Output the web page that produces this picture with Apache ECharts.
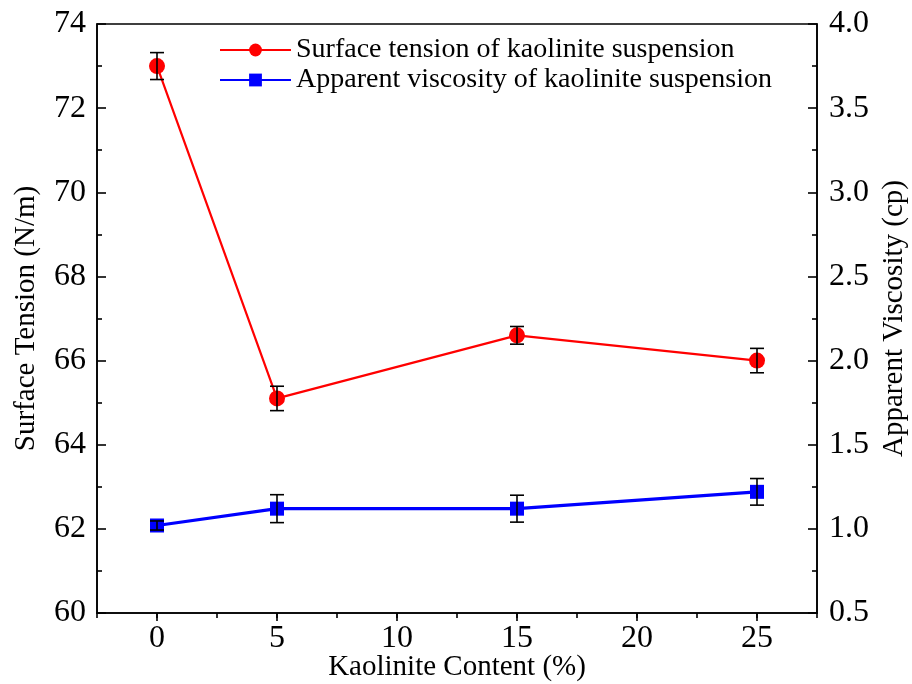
<!DOCTYPE html>
<html>
<head>
<meta charset="utf-8">
<script src="https://cdn.jsdelivr.net/npm/echarts@6/dist/echarts.min.js"></script>
<style>html,body{margin:0;padding:0;background:#fff;}#c{width:912px;height:684px;}</style>
</head>
<body>
<div id="c"></div>
<script>
var kaolinite = [0, 5, 15, 25];
var surfaceTension = [73.0, 65.1, 66.6, 66.0];
var surfaceTensionErr = [0.32, 0.29, 0.21, 0.29];
var viscosity = [1.02, 1.12, 1.12, 1.22];
var viscosityErr = [0.027, 0.083, 0.08, 0.079];
var xTicks = [0, 5, 10, 15, 20, 25];
var nameST = 'Surface tension of kaolinite suspension';
var nameAV = 'Apparent viscosity of kaolinite suspension';

var font = 'Liberation Serif, Times New Roman, serif';
var stData = kaolinite.map(function (x, i) { return [x, surfaceTension[i]]; });
var avData = kaolinite.map(function (x, i) { return [x, viscosity[i]]; });
var stErr = kaolinite.map(function (x, i) { return [x, surfaceTension[i] - surfaceTensionErr[i], surfaceTension[i] + surfaceTensionErr[i]]; });
var avErr = kaolinite.map(function (x, i) { return [x, viscosity[i] - viscosityErr[i], viscosity[i] + viscosityErr[i]]; });

function errRender(params, api) {
  var x = api.value(0);
  var lo = api.coord([x, api.value(1)]);
  var hi = api.coord([x, api.value(2)]);
  var hw = 7;
  var st = { stroke: '#000', lineWidth: 1.6 };
  return {
    type: 'group',
    children: [
      { type: 'line', shape: { x1: lo[0], y1: lo[1], x2: hi[0], y2: hi[1] }, style: st },
      { type: 'line', shape: { x1: lo[0] - hw, y1: lo[1], x2: lo[0] + hw, y2: lo[1] }, style: st },
      { type: 'line', shape: { x1: hi[0] - hw, y1: hi[1], x2: hi[0] + hw, y2: hi[1] }, style: st }
    ]
  };
}

var axisLabelStyle = { color: '#000', fontFamily: font, fontSize: 32 };
var nameStyle = { color: '#000', fontFamily: font, fontSize: 29 };
var blackLine = { color: '#000', width: 1.6 };

var chart = echarts.init(document.getElementById('c'));
chart.setOption({
  animation: false,
  backgroundColor: '#fff',
  grid: { left: 97, right: 95, top: 24, bottom: 71, containLabel: false, outerBoundsMode: 'none',
    show: true, borderColor: '#000', borderWidth: 1.6, backgroundColor: 'transparent' },
  legend: {
    data: [nameST, nameAV],
    orient: 'vertical',
    left: 214,
    top: 31,
    itemWidth: 71,
    itemHeight: 16,
    itemGap: 2,
    textStyle: { color: '#000', fontFamily: font, fontSize: 28, lineHeight: 27 }
  },
  xAxis: [{
    type: 'value', min: -2.5, max: 27.5, interval: 2.5, position: 'bottom',
    name: 'Kaolinite Content (%)', nameLocation: 'middle', nameGap: 40, nameMoveOverlap: false,
    nameTextStyle: nameStyle,
    axisLine: { show: true, onZero: false, lineStyle: blackLine },
    axisTick: { show: true, inside: false, length: 5, lineStyle: blackLine },
    axisLabel: Object.assign({ margin: 10, customValues: xTicks }, axisLabelStyle),
    splitLine: { show: false }
  }, {
    type: 'value', min: -2.5, max: 27.5, position: 'bottom',
    axisLine: { show: false, onZero: false },
    axisTick: { show: true, inside: false, length: 8, customValues: xTicks, lineStyle: blackLine },
    axisLabel: { show: false },
    splitLine: { show: false }
  }],
  yAxis: [{
    type: 'value', min: 60, max: 74, interval: 2,
    name: 'Surface Tension (N/m)', nameLocation: 'middle', nameGap: 56,
    nameTextStyle: nameStyle,
    axisLine: { show: true, onZero: false, lineStyle: blackLine },
    axisTick: { show: true, inside: true, length: 9, lineStyle: blackLine },
    minorTick: { show: true, splitNumber: 2, length: 5, lineStyle: blackLine },
    axisLabel: Object.assign({ margin: 11 }, axisLabelStyle),
    splitLine: { show: false }
  }, {
    type: 'value', min: 0.5, max: 4.0, interval: 0.5, position: 'right',
    name: 'Apparent Viscosity (cp)', nameLocation: 'middle', nameGap: 60,
    nameTextStyle: nameStyle,
    axisLine: { show: true, onZero: false, lineStyle: blackLine },
    axisTick: { show: true, inside: true, length: 9, lineStyle: blackLine },
    minorTick: { show: true, splitNumber: 2, length: 5, lineStyle: blackLine },
    axisLabel: Object.assign({ margin: 12, formatter: function (v) { return v.toFixed(1); } }, axisLabelStyle),
    splitLine: { show: false }
  }],
  series: [{
    name: nameST, type: 'line', data: stData, xAxisIndex: 0, yAxisIndex: 0,
    symbol: 'circle', symbolSize: 16,
    lineStyle: { color: '#ff0000', width: 2.2 },
    itemStyle: { color: '#ff0000' },
    z: 3
  }, {
    name: nameAV, type: 'line', data: avData, xAxisIndex: 0, yAxisIndex: 1,
    symbol: 'rect', symbolSize: 14,
    lineStyle: { color: '#0000ff', width: 3.2 },
    itemStyle: { color: '#0000ff' },
    z: 3
  }, {
    name: 'stErr', type: 'custom', xAxisIndex: 0, yAxisIndex: 0, data: stErr, renderItem: errRender, z: 4, silent: true
  }, {
    name: 'avErr', type: 'custom', xAxisIndex: 0, yAxisIndex: 1, data: avErr, renderItem: errRender, z: 4, silent: true
  }]
});
</script>
</body>
</html>
